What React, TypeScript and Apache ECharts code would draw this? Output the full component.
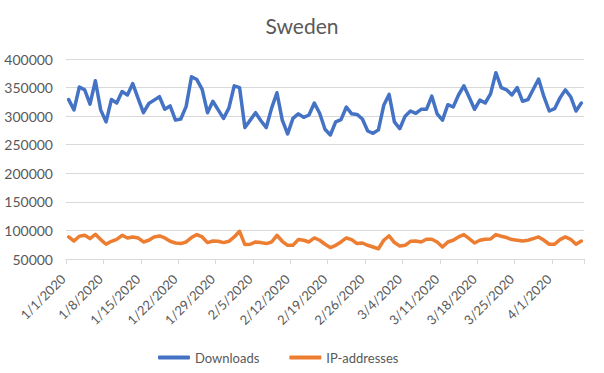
import React, { useEffect, useRef } from "react";
import * as echarts from "echarts";

const START_DATE = new Date(2020, 0, 1);
const DAY_COUNT = 97;
const categories: string[] = Array.from({ length: DAY_COUNT }, (_, i) => {
  const d = new Date(START_DATE.getFullYear(), START_DATE.getMonth(), START_DATE.getDate() + i);
  return `${d.getMonth() + 1}/${d.getDate()}/${d.getFullYear()}`;
});

const downloads: number[] = [
  329000, 311000, 351000, 346000, 321000, 362000, 311000, 290000, 329000, 323000,
  343000, 337000, 357000, 331000, 306000, 322000, 328000, 334000, 312000, 318000,
  293000, 295000, 317000, 369000, 364000, 347000, 306000, 326000, 311000, 296000,
  314000, 353000, 350000, 280000, 293000, 306000, 292000, 280000, 314000, 341000,
  293000, 269000, 296000, 304000, 298000, 302000, 323000, 305000, 277000, 267000,
  290000, 294000, 316000, 304000, 303000, 295000, 274000, 270000, 276000, 319000,
  338000, 290000, 278000, 300000, 309000, 305000, 312000, 312000, 335000, 304000,
  293000, 320000, 316000, 337000, 353000, 333000, 312000, 328000, 323000, 339000,
  376000, 350000, 346000, 337000, 350000, 326000, 329000, 347000, 365000, 334000,
  309000, 313000, 332000, 346000, 334000, 309000, 323000,
];

const ipAddresses: number[] = [
  88600, 81500, 89800, 91500, 85700, 93300, 84000, 75800, 81000, 84500,
  91500, 86800, 88600, 86800, 79800, 82800, 88600, 90300, 86800, 81000,
  78000, 77000, 79800, 87500, 92800, 88600, 78700, 81500, 81000, 78700,
  81000, 88600, 98500, 75200, 75800, 79800, 78700, 77000, 79800, 91500,
  81000, 74000, 74000, 84000, 82800, 79800, 86800, 82800, 75800, 70000,
  74000, 79800, 86800, 84000, 77000, 78000, 74000, 71000, 68000, 82800,
  90300, 78700, 72800, 74000, 81000, 81500, 79800, 84500, 84500, 79800,
  71000, 79800, 82800, 88600, 92800, 85700, 78000, 82800, 84500, 85000,
  92800, 89800, 87500, 84000, 82800, 81500, 82800, 85700, 88600, 82800,
  75800, 75800, 84000, 88600, 84500, 75800, 81500,
];

const Y_MIN = 50000;
const Y_MAX = 400000;
const Y_INTERVAL = 50000;

const FONT = "Lato, 'Open Sans', sans-serif";
const TEXT_COLOR = "#595959";
const GRID_COLOR = "#d9d9d9";

export default function App() {
  const ref = useRef<HTMLDivElement>(null);

  useEffect(() => {
    document.body.style.margin = "0";
    if (!ref.current) return;
    const chart = echarts.init(ref.current, null, { renderer: "svg" });
    chart.setOption({
      animation: false,
      backgroundColor: "#ffffff",
      title: {
        text: "Sweden",
        left: "center",
        top: 10,
        textStyle: {
          fontFamily: FONT,
          fontSize: 21,
          fontWeight: "normal",
          color: TEXT_COLOR,
        },
      },
      legend: {
        left: 153,
        top: 346,
        icon: "roundRect",
        itemWidth: 32,
        itemHeight: 4,
        itemGap: 30,
        textStyle: { fontFamily: FONT, fontSize: 13, color: TEXT_COLOR },
        data: ["Downloads", "IP-addresses"],
      },
      grid: {
        left: 66,
        right: 20,
        top: 59,
        bottom: 114,
        containLabel: false,
      },
      xAxis: {
        type: "category",
        data: categories,
        boundaryGap: true,
        axisLine: { lineStyle: { color: GRID_COLOR, width: 1 } },
        axisTick: {
          show: true,
          interval: 6,
          length: 5,
          lineStyle: { color: GRID_COLOR },
        },
        axisLabel: {
          interval: 6,
          rotate: 45,
          margin: 12,
          padding: [0, 8, 0, 0],
          fontFamily: FONT,
          fontSize: 13,
          color: TEXT_COLOR,
        },
        splitLine: { show: false },
      },
      yAxis: {
        type: "value",
        min: Y_MIN,
        max: Y_MAX,
        interval: Y_INTERVAL,
        axisLine: { show: false },
        axisTick: { show: false },
        axisLabel: {
          margin: 13,
          fontFamily: FONT,
          fontSize: 14,
          color: TEXT_COLOR,
          formatter: (v: number) => String(v),
        },
        splitLine: { lineStyle: { color: GRID_COLOR, width: 1 } },
      },
      series: [
        {
          name: "Downloads",
          type: "line",
          data: downloads,
          showSymbol: false,
          symbol: "none",
          color: "#4472C4",
          lineStyle: { width: 3.5, color: "#4472C4", cap: "round", join: "round" },
        },
        {
          name: "IP-addresses",
          type: "line",
          data: ipAddresses,
          showSymbol: false,
          symbol: "none",
          color: "#ED7D31",
          lineStyle: { width: 3.5, color: "#ED7D31", cap: "round", join: "round" },
        },
      ],
    });
    return () => chart.dispose();
  }, []);

  return <div ref={ref} style={{ width: 604, height: 373 }} />;
}
